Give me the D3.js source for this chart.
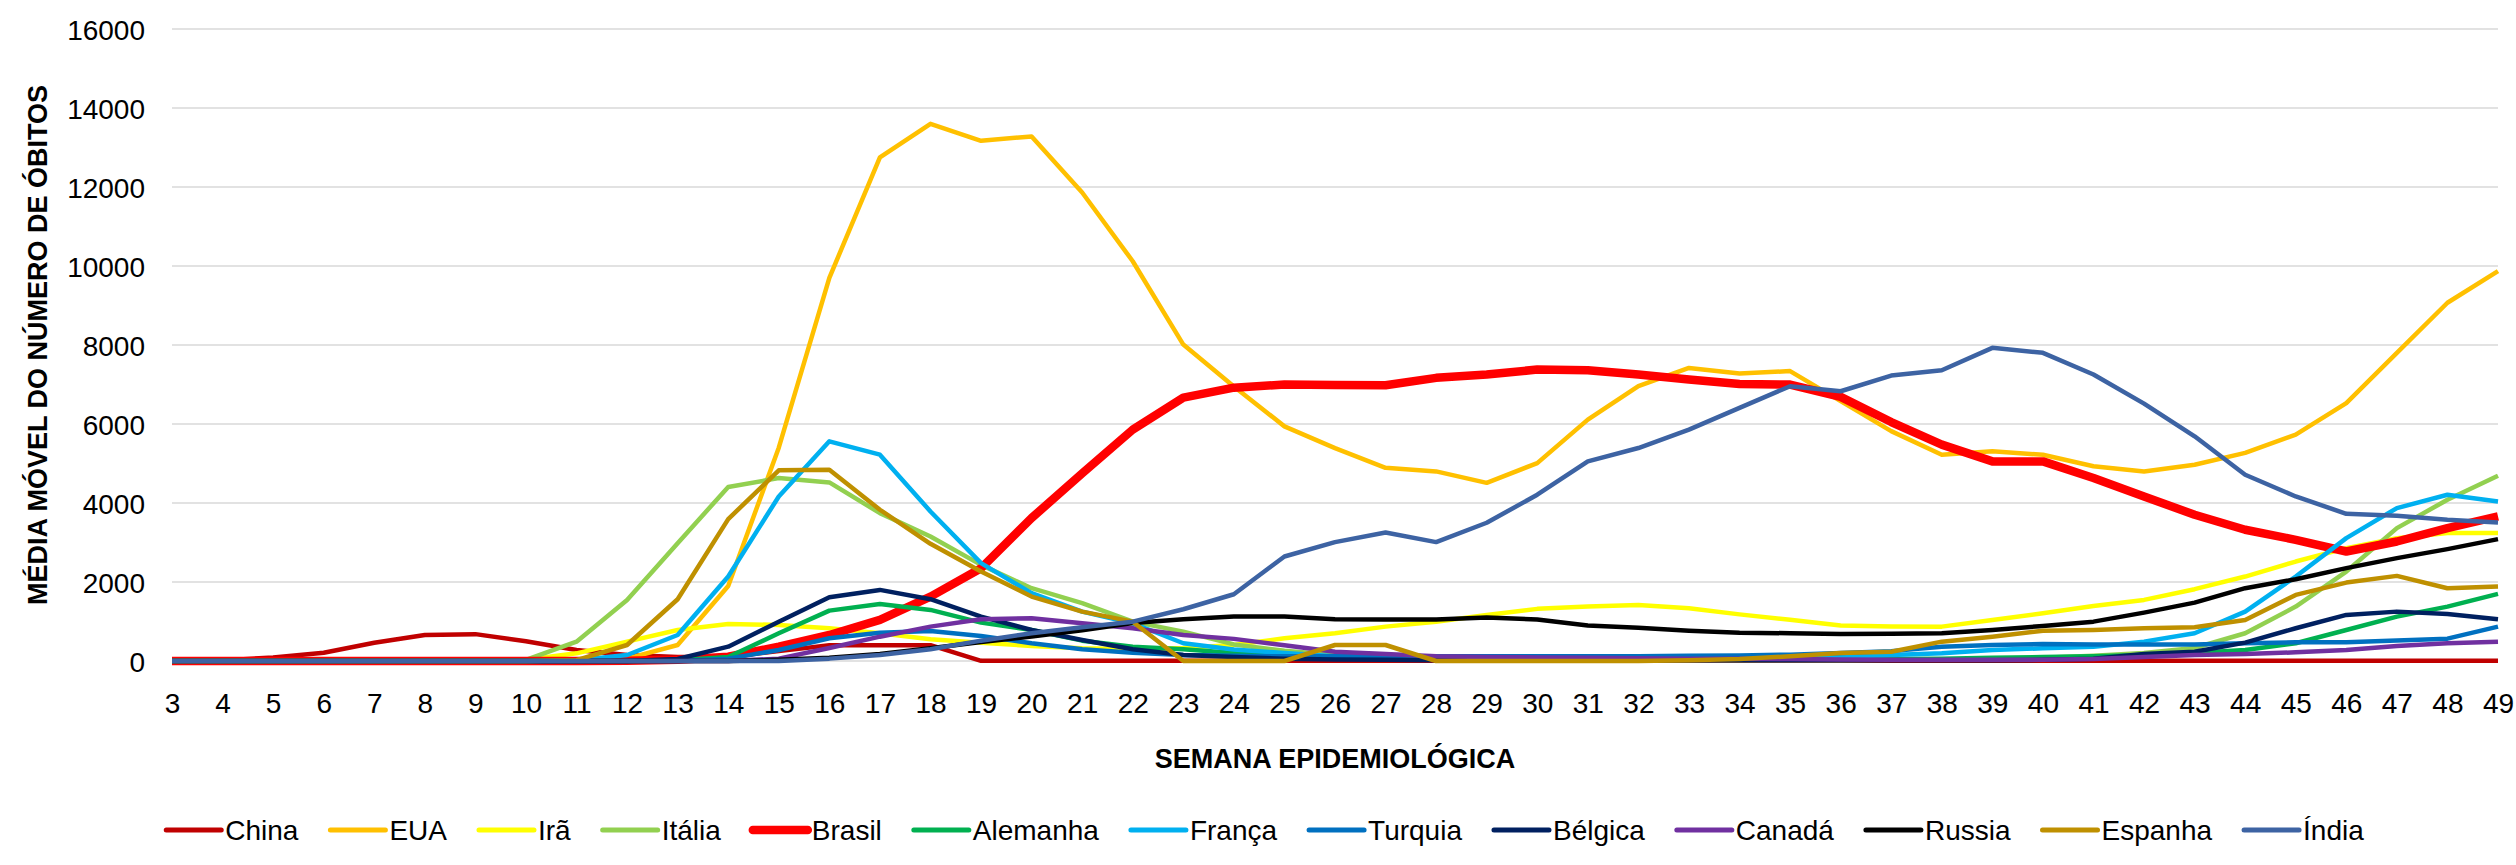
<!DOCTYPE html>
<html>
<head>
<meta charset="utf-8">
<script src="https://cdn.jsdelivr.net/npm/d3@7"></script>
<style>
  html, body { margin: 0; padding: 0; background: #fff; }
  svg { display: block; }
  text { font-family: "Liberation Sans", Arial, sans-serif; fill: #000; }
</style>
</head>
<body>
<svg id="chart" width="2516" height="865"></svg>
<script>
// ---- DATA ----
const weeks = [3,4,5,6,7,8,9,10,11,12,13,14,15,16,17,18,19,20,21,22,23,24,25,26,27,28,29,30,31,32,33,34,35,36,37,38,39,40,41,42,43,44,45,46,47,48,49];
const yTicks = [0,2000,4000,6000,8000,10000,12000,14000,16000];

const seriesNames = ["China","EUA","Irã","Itália","Brasil","Alemanha","França","Turquia","Bélgica","Canadá","Russia","Espanha","Índia"];
const seriesColors = ["#C00000","#FFC000","#FFFF00","#92D050","#FF0000","#00B050","#00B0F0","#0070C0","#002060","#7030A0","#000000","#BF9000","#3D63A3"];

const china    = [10,15,90,210,460,660,680,500,280,150,100,100,250,400,400,400,5,5,5,5,5,5,5,5,5,5,5,5,5,5,5,5,5,5,5,5,5,5,5,5,5,5,5,5,5,5,5];
const eua      = [0,0,0,0,0,0,0,5,30,60,405,1900,5400,9700,12750,13600,13170,13280,11860,10120,8010,6950,5940,5390,4890,4800,4510,5010,6110,6960,7420,7280,7340,6580,5820,5220,5310,5220,4930,4800,4970,5270,5730,6530,7800,9070,9870];
const ira      = [0,0,0,0,0,0,5,30,194,490,786,938,913,829,702,550,465,380,321,296,330,405,575,702,870,996,1166,1320,1377,1420,1336,1180,1045,900,875,870,1040,1209,1394,1547,1818,2138,2518,2857,3110,3238,3238];
const italia   = [0,0,0,0,0,0,0,30,490,1547,2984,4404,4632,4521,3744,3152,2434,1843,1463,996,743,420,260,150,80,60,50,40,30,20,20,20,20,20,30,40,60,80,130,200,330,702,1377,2264,3364,4082,4691];
const brasil   = [0,0,0,0,0,0,0,0,0,5,30,110,363,659,1040,1630,2350,3620,4750,5857,6668,6920,7000,6990,6980,7168,7252,7378,7362,7252,7125,7015,6998,6686,6050,5477,5053,5053,4632,4166,3702,3322,3068,2772,3025,3364,3659];
const alemanha = [0,0,0,0,0,0,0,0,0,0,20,100,702,1275,1445,1293,971,786,515,363,296,200,130,80,60,50,40,40,40,40,40,40,40,40,50,60,80,100,120,150,200,279,449,786,1124,1377,1699];
const franca   = [0,0,0,0,0,0,0,0,20,152,659,2138,4166,5561,5223,3786,2477,1716,1250,955,450,290,200,120,90,70,60,60,60,60,70,80,90,110,152,194,279,321,363,490,702,1250,2138,3110,3871,4209,4040];
const turquia  = [0,0,0,0,0,0,0,0,0,0,0,60,279,575,718,761,634,449,296,211,152,130,120,120,120,120,120,120,120,120,130,140,160,200,250,363,405,430,420,420,420,449,473,473,517,565,871];
const belgica  = [0,0,0,0,0,0,0,0,0,0,50,363,996,1614,1800,1564,1124,786,532,296,152,100,60,40,30,20,20,20,20,20,20,20,20,20,20,20,20,30,60,177,236,465,829,1166,1250,1192,1057];
const canada   = [0,0,0,0,0,0,0,0,0,0,0,0,60,330,616,870,1057,1082,955,829,659,560,400,236,177,120,100,90,80,70,60,60,50,40,30,30,30,30,50,100,150,177,220,279,380,449,490];
const russia   = [0,0,0,0,0,0,0,0,0,0,0,0,30,80,180,321,480,620,780,960,1057,1124,1124,1057,1050,1050,1100,1050,900,840,768,718,702,684,690,702,786,887,996,1225,1478,1843,2071,2350,2604,2832,3085];
const espanha  = [0,0,0,0,0,0,0,0,20,405,1564,3592,4826,4843,3829,2966,2265,1631,1250,996,0,0,0,405,405,0,0,0,0,0,20,50,120,200,236,490,616,768,786,829,854,1040,1673,1985,2155,1843,1884];
const india    = [0,0,0,0,0,0,0,0,0,0,0,0,0,60,150,296,515,702,854,996,1310,1690,2645,3010,3253,3010,3500,4209,5053,5392,5857,6407,6956,6829,7226,7362,7928,7802,7252,6516,5688,4716,4166,3727,3676,3575,3507];

const seriesValues = [china,eua,ira,italia,brasil,alemanha,franca,turquia,belgica,canada,russia,espanha,india];

const yTitle = "MÉDIA MÓVEL DO NÚMERO DE ÓBITOS";
const xTitle = "SEMANA EPIDEMIOLÓGICA";

// ---- LAYOUT ----
const svg = d3.select("#chart");
const W = 2516, H = 865;
const plot = {left: 172, right: 2498, top: 29, bottom: 661};

const x = d3.scalePoint().domain(weeks).range([plot.left, plot.right]).padding(0);
const y = d3.scaleLinear().domain([0, 16000]).range([plot.bottom, plot.top]);

// gridlines
svg.append("g").selectAll("line").data(yTicks).join("line")
  .attr("x1", plot.left).attr("x2", plot.right)
  .attr("y1", d => y(d)).attr("y2", d => y(d))
  .attr("stroke", "#D9D9D9").attr("stroke-width", 1.5);

// y axis
const yAxis = d3.axisLeft(y).tickValues(yTicks).tickSize(0).tickPadding(0).tickFormat(d3.format("d"));
const gy = svg.append("g").attr("transform", `translate(${plot.left - 27},0)`).call(yAxis);
gy.select(".domain").remove();
gy.selectAll("text").attr("font-size", 28).attr("font-family", "Liberation Sans, Arial, sans-serif").attr("fill", "#000").attr("dy", "0.36em");

// x axis
const xAxis = d3.axisBottom(x).tickSize(0).tickPadding(0);
const gx = svg.append("g").attr("transform", `translate(0,${plot.bottom})`).call(xAxis);
gx.select(".domain").remove();
gx.selectAll("text").attr("font-size", 28).attr("font-family", "Liberation Sans, Arial, sans-serif").attr("fill", "#000").attr("dy", null).attr("y", 52);

// lines
const line = d3.line().x((d, i) => x(weeks[i])).y(d => y(d));
const gLines = svg.append("g");
seriesValues.forEach((vals, i) => {
  gLines.append("path")
    .datum(vals)
    .attr("d", line)
    .attr("fill", "none")
    .attr("stroke", seriesColors[i])
    .attr("stroke-width", seriesNames[i] === "Brasil" ? 8.5 : 4.5)
    .attr("stroke-linejoin", "round")
    .attr("stroke-linecap", "butt");
});

// axis titles
svg.append("text")
  .attr("x", (plot.left + plot.right) / 2).attr("y", 768)
  .attr("text-anchor", "middle").attr("font-size", 27).attr("font-weight", "bold")
  .text(xTitle);

svg.append("text")
  .attr("transform", `translate(47,${(plot.top + plot.bottom) / 2}) rotate(-90)`)
  .attr("text-anchor", "middle").attr("font-size", 27).attr("font-weight", "bold")
  .text(yTitle);

// legend
const legend = svg.append("g");
const markerLen = 55, textGap = 4, itemGap = 32, legendY = 830;
const items = seriesNames.map((name, i) => {
  const g = legend.append("g");
  g.append("line").attr("x1", 0).attr("x2", markerLen).attr("y1", 0).attr("y2", 0)
    .attr("stroke", seriesColors[i]).attr("stroke-width", name === "Brasil" ? 8.5 : 5)
    .attr("stroke-linecap", "round");
  const t = g.append("text").attr("x", markerLen + textGap).attr("y", 10)
    .attr("font-size", 28).text(name);
  return {g, w: markerLen + textGap + t.node().getComputedTextLength()};
});
const total = d3.sum(items, d => d.w) + itemGap * (items.length - 1);
let cx = 1265 - total / 2;
items.forEach(it => {
  it.g.attr("transform", `translate(${cx},${legendY})`);
  cx += it.w + itemGap;
});
</script>
</body>
</html>
